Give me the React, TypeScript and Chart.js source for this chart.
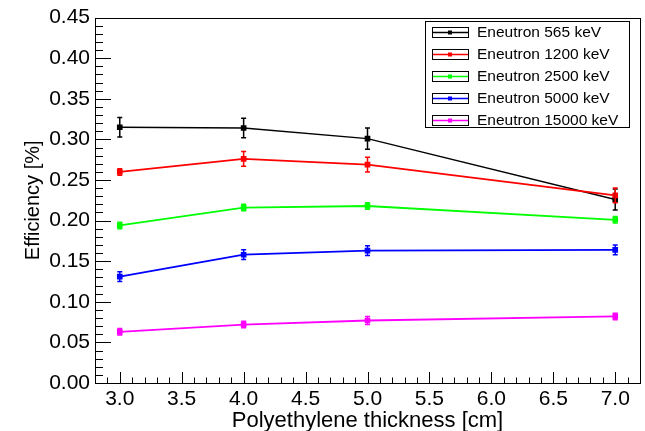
import React, { useEffect, useRef } from 'react';
import { Chart, registerables } from 'chart.js';

Chart.register(...registerables);

// ---- data ----
const thickness = [3.0, 4.0, 5.0, 7.0];
const seriesNames = [
  'Eneutron 565 keV',
  'Eneutron 1200 keV',
  'Eneutron 2500 keV',
  'Eneutron 5000 keV',
  'Eneutron 15000 keV',
];
const seriesColors = ['#000000', '#ff0000', '#00ff00', '#0000ff', '#ff00ff'];
const eff565 = [0.315, 0.314, 0.301, 0.226];
const err565 = [0.012, 0.012, 0.013, 0.013];
const eff1200 = [0.26, 0.276, 0.269, 0.231];
const err1200 = [0.004, 0.009, 0.009, 0.009];
const eff2500 = [0.194, 0.216, 0.218, 0.201];
const err2500 = [0.004, 0.004, 0.004, 0.004];
const eff5000 = [0.131, 0.158, 0.163, 0.164];
const err5000 = [0.006, 0.006, 0.006, 0.006];
const eff15000 = [0.063, 0.072, 0.077, 0.082];
const err15000 = [0.004, 0.004, 0.005, 0.004];
const xTickValues = [3.0, 3.5, 4.0, 4.5, 5.0, 5.5, 6.0, 6.5, 7.0];
const yTickValues = [0, 0.05, 0.1, 0.15, 0.2, 0.25, 0.3, 0.35, 0.4, 0.45];
const xTitle = 'Polyethylene thickness [cm]';
const yTitle = 'Efficiency [%]';

const allValues = [eff565, eff1200, eff2500, eff5000, eff15000];
const allErrors = [err565, err1200, err2500, err5000, err15000];

const FONT = 'Liberation Sans, Arial, Helvetica, sans-serif';

const errorBarPlugin = {
  id: 'errorBars',
  afterDatasetsDraw(chart: any) {
    const { ctx } = chart;
    const ys = chart.scales.y;
    chart.data.datasets.forEach((ds: any, di: number) => {
      const meta = chart.getDatasetMeta(di);
      ctx.save();
      ctx.strokeStyle = ds.borderColor;
      ctx.lineWidth = 1.5;
      meta.data.forEach((pt: any, i: number) => {
        const v = allValues[di][i];
        const e = allErrors[di][i];
        const x = pt.x;
        const y1 = ys.getPixelForValue(v + e);
        const y2 = ys.getPixelForValue(v - e);
        ctx.beginPath();
        ctx.moveTo(x, y1);
        ctx.lineTo(x, y2);
        ctx.moveTo(x - 2.5, y1);
        ctx.lineTo(x + 2.5, y1);
        ctx.moveTo(x - 2.5, y2);
        ctx.lineTo(x + 2.5, y2);
        ctx.stroke();
      });
      ctx.restore();
    });
  },
};

const framePlugin = {
  id: 'rootFrame',
  afterDraw(chart: any) {
    const { ctx, chartArea } = chart;
    const { left, top, right, bottom } = chartArea;
    const xs = chart.scales.x;
    const ys = chart.scales.y;
    ctx.save();
    ctx.strokeStyle = '#000';
    ctx.lineWidth = 1;
    ctx.strokeRect(Math.round(left) + 0.5, Math.round(top) + 0.5, Math.round(right - left), Math.round(bottom - top));
    ctx.beginPath();
    for (let k = 0; k <= 45; k++) {
      const y = Math.round(ys.getPixelForValue(k / 100)) + 0.5;
      const len = k % 5 === 0 ? 16 : 8;
      ctx.moveTo(left, y);
      ctx.lineTo(left + len, y);
    }
    for (let k = 28; k <= 72; k++) {
      const x = Math.round(xs.getPixelForValue(k / 10)) + 0.5;
      const len = k % 5 === 0 ? 11 : 5.5;
      ctx.moveTo(x, bottom);
      ctx.lineTo(x, bottom - len);
    }
    ctx.stroke();
    ctx.restore();
  },
};

const legendPlugin = {
  id: 'rootLegend',
  afterDraw(chart: any) {
    const { ctx } = chart;
    const bx = 425, by = 21, bw = 204, bh = 106;
    ctx.save();
    ctx.fillStyle = '#fff';
    ctx.fillRect(bx, by, bw, bh);
    ctx.strokeStyle = '#000';
    ctx.lineWidth = 1;
    ctx.strokeRect(bx + 0.5, by + 0.5, bw, bh);
    seriesNames.forEach((name, i) => {
      const cy = 31.7 + 22 * i;
      ctx.strokeStyle = '#000';
      ctx.lineWidth = 1;
      ctx.strokeRect(432.5, Math.round(cy) - 4.5, 36, 10);
      ctx.strokeStyle = seriesColors[i];
      ctx.lineWidth = 1.5;
      ctx.beginPath();
      ctx.moveTo(433, Math.round(cy) + 0.5);
      ctx.lineTo(468, Math.round(cy) + 0.5);
      ctx.stroke();
      ctx.fillStyle = seriesColors[i];
      ctx.fillRect(448, Math.round(cy) - 1.5, 4, 4);
      ctx.fillStyle = '#000';
      ctx.font = `15.5px ${FONT}`;
      ctx.textBaseline = 'middle';
      ctx.textAlign = 'left';
      ctx.fillText(name, 477, cy + 1);
    });
    ctx.restore();
  },
};

export default function App() {
  const ref = useRef<HTMLCanvasElement | null>(null);
  useEffect(() => {
    document.body.style.margin = '0';
    const canvas = ref.current;
    if (!canvas) return;
    const chart = new Chart(canvas, {
      type: 'line',
      data: {
        datasets: seriesNames.map((name, i) => ({
          label: name,
          data: thickness.map((x, j) => ({ x, y: allValues[i][j] })),
          borderColor: seriesColors[i],
          backgroundColor: seriesColors[i],
          borderWidth: i === 0 ? 1.4 : 1.8,
          pointStyle: 'rect',
          pointRadius: 4,
          pointBorderWidth: 0,
          tension: 0,
          order: -i,
        })),
      },
      options: {
        responsive: false,
        animation: false,
        layout: { padding: { left: 0, right: 5, top: 14, bottom: 0 } },
        scales: {
          x: {
            type: 'linear',
            min: 2.8,
            max: 7.2,
            afterBuildTicks: (s: any) => {
              s.ticks = xTickValues.map((v) => ({ value: v }));
            },
            afterFit: (s: any) => {
              s.height = 48;
            },
            ticks: {
              callback: (v: any) => Number(v).toFixed(1),
              font: { family: FONT, size: 21 },
              color: '#000',
              padding: 4,
              maxRotation: 0,
              autoSkip: false,
            },
            grid: { display: false, drawTicks: false },
            border: { display: false },
            title: {
              display: true,
              text: xTitle,
              font: { family: FONT, size: 22 },
              color: '#000',
              padding: { top: 0, bottom: -3 },
            },
          },
          y: {
            type: 'linear',
            min: 0,
            max: 0.45,
            afterBuildTicks: (s: any) => {
              s.ticks = yTickValues.map((v) => ({ value: v }));
            },
            afterFit: (s: any) => {
              s.width = 95;
            },
            ticks: {
              callback: (v: any) => Number(v).toFixed(2),
              font: { family: FONT, size: 21 },
              color: '#000',
              padding: 5,
              autoSkip: false,
            },
            grid: { display: false, drawTicks: false },
            border: { display: false },
            title: {
              display: true,
              text: yTitle,
              font: { family: FONT, size: 20 },
              color: '#000',
              padding: { top: 21, bottom: 0 },
            },
          },
        },
        plugins: {
          legend: { display: false },
          tooltip: { enabled: false },
        },
      },
      plugins: [errorBarPlugin, framePlugin, legendPlugin],
    } as any);
    return () => chart.destroy();
  }, []);
  return (
    <div style={{ width: 645, height: 431, background: '#fff' }}>
      <canvas ref={ref} width={645} height={431} style={{ display: 'block', width: 645, height: 431 }} />
    </div>
  );
}
